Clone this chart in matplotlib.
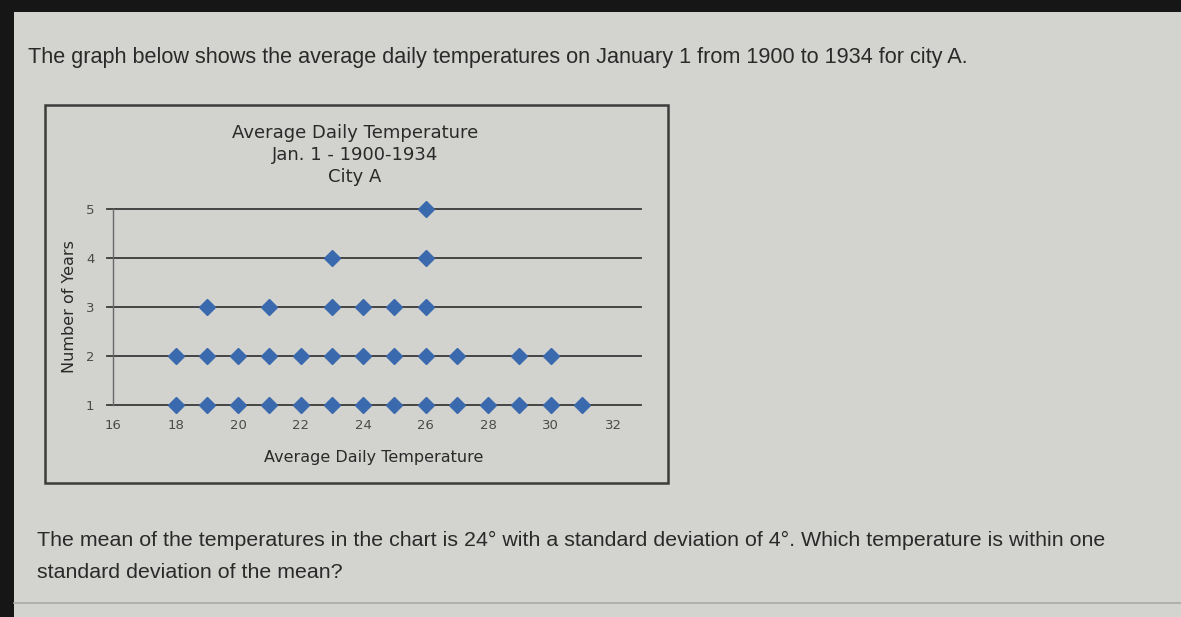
import matplotlib
matplotlib.use("Agg")
import matplotlib.pyplot as plt
from matplotlib.patches import Rectangle
from matplotlib.lines import Line2D

# Data: number of years with each average daily temperature (Jan 1, 1900-1934)
temperatures = [18, 19, 20, 21, 22, 23, 24, 25, 26, 27, 28, 29, 30, 31]
year_counts  = [2, 3, 2, 3, 2, 4, 3, 3, 5, 2, 1, 2, 2, 1]
y_ticks = [1, 2, 3, 4, 5]
x_ticks = [16, 18, 20, 22, 24, 26, 28, 30, 32]

title_text = "Average Daily Temperature\nJan. 1 - 1900-1934\nCity A"
x_label = "Average Daily Temperature"
y_label = "Number of Years"
intro = "The graph below shows the average daily temperatures on January 1 from 1900 to 1934 for city A."
question_1 = "The mean of the temperatures in the chart is 24° with a standard deviation of 4°. Which temperature is within one"
question_2 = "standard deviation of the mean?"

W, H = 1181, 617
fig = plt.figure(figsize=(W / 100, H / 100), dpi=100)
fig.patch.set_facecolor("#161616")

def fx(px):
    return px / W

def fy(py):
    return 1 - py / H

# page background
fig.add_artist(Rectangle((fx(14), 0), 1 - fx(14), fy(12), transform=fig.transFigure,
                         facecolor="#d3d4d0", edgecolor="none", zorder=0))
# chart frame
fig.add_artist(Rectangle((fx(45), fy(483)), fx(668 - 45), fy(105) - fy(483),
                         transform=fig.transFigure, facecolor="#d2d3cf",
                         edgecolor="#3c3c3c", linewidth=1.8, zorder=1))
# bottom separator line
fig.add_artist(Line2D([fx(14), 1], [fy(603), fy(603)], transform=fig.transFigure,
                      color="#a9aaa6", linewidth=1.2, zorder=1))

text_color = "#2a2a2a"
fig.text(fx(28), fy(57), intro, fontsize=15.6, color=text_color, va="center", ha="left",
         family="Liberation Sans", zorder=2)
fig.text(fx(37), fy(540), question_1, fontsize=15.4, color=text_color, va="center", ha="left",
         family="Liberation Sans", zorder=2)
fig.text(fx(37), fy(573), question_2, fontsize=15.4, color=text_color, va="center", ha="left",
         family="Liberation Sans", zorder=2)

# axes
x0, x1 = 15.8, 32.9
px_per_unit = 31.25
left_px = 113 - (16 - x0) * px_per_unit
right_px = 113 + (x1 - 16) * px_per_unit
ax = fig.add_axes([fx(left_px), fy(405), fx(right_px - left_px), fy(209) - fy(405)])
ax.set_zorder(5)
ax.set_facecolor("none")
ax.set_xlim(x0, x1)
ax.set_ylim(1, 5)
for s in ax.spines.values():
    s.set_visible(False)

for yv in y_ticks:
    ax.axhline(yv, color="#3a3a3a", linewidth=1.3, zorder=1, clip_on=False)
ax.plot([16, 16], [1, 5], color="#6a6a6a", linewidth=1.0, zorder=1, clip_on=False)

xs, ys = [], []
for t, c in zip(temperatures, year_counts):
    for k in range(1, c + 1):
        xs.append(t)
        ys.append(k)
ax.plot(xs, ys, linestyle="none", marker="D", markersize=7.8, color="#3b69ad",
        markeredgecolor="#3b69ad", zorder=3, clip_on=False)

ax.set_xticks(x_ticks)
ax.set_xticklabels([str(v) for v in x_ticks])
ax.set_yticks(y_ticks)
ax.set_yticklabels([str(v) for v in y_ticks])
ax.tick_params(axis="both", length=0, labelsize=9.5, labelcolor="#4a4a4a")
ax.tick_params(axis="x", pad=10)
ax.tick_params(axis="y", pad=9)

ax.set_xlabel(x_label, fontsize=11.5, color=text_color, labelpad=13)
ax.set_ylabel(y_label, fontsize=11.5, color=text_color, labelpad=6)

fig.text(fx(355), fy(155), title_text, fontsize=13, color=text_color, ha="center",
         va="center", linespacing=1.3, zorder=2, fontweight="medium")

fig.savefig("out.png", dpi=100, facecolor=fig.get_facecolor())
